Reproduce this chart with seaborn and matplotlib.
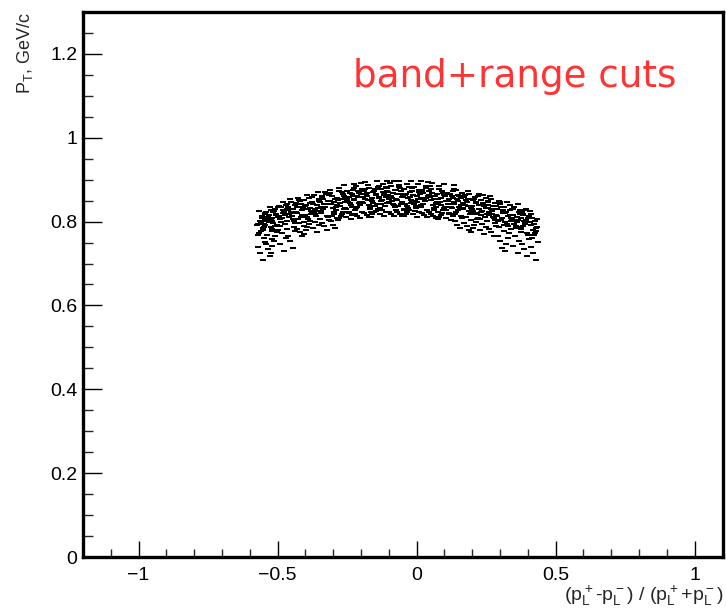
import matplotlib
matplotlib.use("Agg")
import matplotlib.pyplot as plt
from matplotlib.ticker import MultipleLocator, FuncFormatter
from matplotlib.path import Path
import pandas as pd
import seaborn as sns

# Armenteros-type scatter: alpha = (pL+ - pL-)/(pL+ + pL-), pT in GeV/c
alpha = [
    -0.572, -0.567, -0.561, -0.556, -0.550, -0.545, -0.570, -0.564, -0.558, -0.553, -0.547, -0.573, -0.566, -0.559, -0.554, -0.548, -0.544, -0.569, -0.562, -0.551,
    -0.531, -0.547, -0.525, -0.539, -0.520, -0.544, -0.533, -0.528, -0.549, -0.536, -0.522, -0.541, -0.530, -0.546, -0.524, -0.538, -0.519, -0.543, -0.534, -0.526,
    -0.503, -0.514, -0.521, -0.496, -0.500, -0.506, -0.511, -0.518, -0.525, -0.499, -0.505, -0.510, -0.516, -0.522, -0.497, -0.502, -0.508, -0.513, -0.519, -0.524,
    -0.472, -0.480, -0.489, -0.465, -0.484, -0.470, -0.492, -0.476, -0.487, -0.468, -0.482, -0.495, -0.474, -0.479, -0.490, -0.466, -0.485, -0.471, -0.493, -0.477,
    -0.464, -0.459, -0.453, -0.448, -0.442, -0.437, -0.462, -0.456, -0.450, -0.445, -0.439, -0.465, -0.458, -0.451, -0.446, -0.440, -0.436, -0.461, -0.454, -0.443,
    -0.417, -0.433, -0.411, -0.425, -0.406, -0.430, -0.419, -0.414, -0.435, -0.422, -0.408, -0.427, -0.416, -0.432, -0.410, -0.424, -0.405, -0.429, -0.420, -0.412,
    -0.383, -0.394, -0.401, -0.376, -0.380, -0.386, -0.391, -0.398, -0.405, -0.379, -0.385, -0.390, -0.396, -0.402, -0.377, -0.382, -0.388, -0.393, -0.399, -0.404,
    -0.352, -0.360, -0.369, -0.345, -0.364, -0.350, -0.372, -0.356, -0.367, -0.348, -0.362, -0.375, -0.354, -0.359, -0.370, -0.346, -0.365, -0.351, -0.373, -0.357,
    -0.344, -0.339, -0.333, -0.328, -0.322, -0.317, -0.342, -0.336, -0.330, -0.325, -0.319, -0.345, -0.338, -0.331, -0.326, -0.320, -0.316, -0.341, -0.334, -0.323,
    -0.297, -0.313, -0.291, -0.305, -0.286, -0.310, -0.299, -0.294, -0.315, -0.302, -0.288, -0.307, -0.296, -0.312, -0.290, -0.304, -0.285, -0.309, -0.300, -0.292,
    -0.263, -0.274, -0.281, -0.256, -0.260, -0.266, -0.271, -0.278, -0.285, -0.259, -0.265, -0.270, -0.276, -0.282, -0.257, -0.262, -0.268, -0.273, -0.279, -0.284,
    -0.232, -0.240, -0.249, -0.225, -0.244, -0.230, -0.252, -0.236, -0.247, -0.228, -0.242, -0.255, -0.234, -0.239, -0.250, -0.226, -0.245, -0.231, -0.253, -0.237,
    -0.224, -0.219, -0.213, -0.208, -0.202, -0.197, -0.222, -0.216, -0.210, -0.205, -0.199, -0.225, -0.218, -0.211, -0.206, -0.200, -0.196, -0.221, -0.214, -0.203,
    -0.177, -0.193, -0.171, -0.185, -0.166, -0.190, -0.179, -0.174, -0.195, -0.182, -0.168, -0.187, -0.176, -0.192, -0.170, -0.184, -0.165, -0.189, -0.180, -0.172,
    -0.143, -0.154, -0.161, -0.136, -0.140, -0.146, -0.151, -0.158, -0.165, -0.139, -0.145, -0.150, -0.156, -0.162, -0.137, -0.142, -0.148, -0.153, -0.159, -0.164,
    -0.112, -0.120, -0.129, -0.105, -0.124, -0.110, -0.132, -0.116, -0.127, -0.108, -0.122, -0.135, -0.114, -0.119, -0.130, -0.106, -0.125, -0.111, -0.133, -0.117,
    -0.104, -0.099, -0.093, -0.088, -0.082, -0.077, -0.102, -0.096, -0.090, -0.085, -0.079, -0.105, -0.098, -0.091, -0.086, -0.080, -0.076, -0.101, -0.094, -0.083,
    -0.057, -0.073, -0.051, -0.065, -0.046, -0.070, -0.059, -0.054, -0.075, -0.062, -0.048, -0.067, -0.056, -0.072, -0.050, -0.064, -0.045, -0.069, -0.060, -0.052,
    -0.023, -0.034, -0.041, -0.016, -0.020, -0.026, -0.031, -0.038, -0.045, -0.019, -0.025, -0.030, -0.036, -0.042, -0.017, -0.022, -0.028, -0.033, -0.039, -0.044,
    0.008, 0.000, -0.009, 0.015, -0.004, 0.010, -0.012, 0.004, -0.007, 0.012, -0.002, -0.015, 0.006, 0.001, -0.010, 0.014, -0.005, 0.009, -0.013, 0.003,
    0.016, 0.021, 0.027, 0.032, 0.038, 0.043, 0.018, 0.024, 0.030, 0.035, 0.041, 0.015, 0.022, 0.029, 0.034, 0.040, 0.044, 0.019, 0.026, 0.037,
    0.063, 0.047, 0.069, 0.055, 0.074, 0.050, 0.061, 0.066, 0.045, 0.058, 0.072, 0.053, 0.064, 0.048, 0.070, 0.056, 0.075, 0.051, 0.060, 0.068,
    0.097, 0.086, 0.079, 0.104, 0.100, 0.094, 0.089, 0.082, 0.075, 0.101, 0.095, 0.090, 0.084, 0.078, 0.103, 0.098, 0.092, 0.087, 0.081, 0.076,
    0.128, 0.120, 0.111, 0.135, 0.116, 0.130, 0.108, 0.124, 0.113, 0.132, 0.118, 0.105, 0.126, 0.121, 0.110, 0.134, 0.115, 0.129, 0.107, 0.123,
    0.136, 0.141, 0.147, 0.152, 0.158, 0.163, 0.138, 0.144, 0.150, 0.155, 0.161, 0.135, 0.142, 0.149, 0.154, 0.160, 0.164, 0.139, 0.146, 0.157,
    0.183, 0.167, 0.189, 0.175, 0.194, 0.170, 0.181, 0.186, 0.165, 0.178, 0.192, 0.173, 0.184, 0.168, 0.190, 0.176, 0.195, 0.171, 0.180, 0.188,
    0.217, 0.206, 0.199, 0.224, 0.220, 0.214, 0.209, 0.202, 0.195, 0.221, 0.215, 0.210, 0.204, 0.198, 0.223, 0.218, 0.212, 0.207, 0.201, 0.196,
    0.248, 0.240, 0.231, 0.255, 0.236, 0.250, 0.228, 0.244, 0.233, 0.252, 0.238, 0.225, 0.246, 0.241, 0.230, 0.254, 0.235, 0.249, 0.227, 0.243,
    0.256, 0.261, 0.267, 0.272, 0.278, 0.283, 0.258, 0.264, 0.270, 0.275, 0.281, 0.255, 0.262, 0.269, 0.274, 0.280, 0.284, 0.259, 0.266, 0.277,
    0.303, 0.287, 0.309, 0.295, 0.314, 0.290, 0.301, 0.306, 0.285, 0.298, 0.312, 0.293, 0.304, 0.288, 0.310, 0.296, 0.315, 0.291, 0.300, 0.308,
    0.337, 0.326, 0.319, 0.344, 0.340, 0.334, 0.329, 0.322, 0.315, 0.341, 0.335, 0.330, 0.324, 0.318, 0.343, 0.338, 0.332, 0.327, 0.321, 0.316,
    0.368, 0.360, 0.351, 0.375, 0.356, 0.370, 0.348, 0.364, 0.353, 0.372, 0.358, 0.345, 0.366, 0.361, 0.350, 0.374, 0.355, 0.369, 0.347, 0.363,
    0.376, 0.381, 0.387, 0.392, 0.398, 0.403, 0.378, 0.384, 0.390, 0.395, 0.401, 0.375, 0.382, 0.389, 0.394, 0.400, 0.404, 0.379, 0.386, 0.397,
    0.423, 0.407, 0.429, 0.415, 0.434, 0.410, 0.421, 0.426, 0.405, 0.418, 0.432, 0.413, 0.424, 0.408, 0.430, 0.416, 0.435, 0.411, 0.420, 0.428,
]

pt = [
    0.795, 0.825, 0.777, 0.809, 0.788, 0.818, 0.768, 0.802, 0.813, 0.781, 0.806, 0.792, 0.773, 0.799, 0.785, 0.761, 0.751, 0.739, 0.726, 0.709,
    0.815, 0.791, 0.828, 0.801, 0.783, 0.820, 0.808, 0.835, 0.794, 0.812, 0.778, 0.824, 0.798, 0.805, 0.787, 0.769, 0.759, 0.747, 0.734, 0.717,
    0.793, 0.826, 0.809, 0.838, 0.781, 0.818, 0.830, 0.797, 0.804, 0.834, 0.816, 0.789, 0.823, 0.802, 0.811, 0.776, 0.766, 0.754, 0.741, 0.724,
    0.816, 0.846, 0.798, 0.830, 0.809, 0.839, 0.789, 0.823, 0.834, 0.802, 0.827, 0.813, 0.794, 0.820, 0.806, 0.782, 0.772, 0.760, 0.747, 0.730,
    0.834, 0.810, 0.847, 0.820, 0.802, 0.839, 0.827, 0.854, 0.813, 0.831, 0.797, 0.843, 0.817, 0.824, 0.806, 0.788, 0.778, 0.766, 0.753, 0.736,
    0.811, 0.844, 0.827, 0.856, 0.799, 0.836, 0.848, 0.815, 0.822, 0.852, 0.834, 0.807, 0.841, 0.820, 0.829, 0.796, 0.790, 0.783, 0.775, 0.766,
    0.833, 0.863, 0.815, 0.847, 0.826, 0.856, 0.806, 0.840, 0.851, 0.819, 0.844, 0.830, 0.811, 0.837, 0.823, 0.801, 0.795, 0.788, 0.780, 0.771,
    0.850, 0.826, 0.863, 0.836, 0.818, 0.855, 0.843, 0.870, 0.829, 0.847, 0.813, 0.859, 0.833, 0.840, 0.822, 0.806, 0.800, 0.793, 0.785, 0.776,
    0.825, 0.858, 0.841, 0.870, 0.813, 0.850, 0.862, 0.829, 0.836, 0.866, 0.848, 0.821, 0.855, 0.834, 0.843, 0.810, 0.804, 0.797, 0.789, 0.780,
    0.846, 0.876, 0.828, 0.860, 0.839, 0.869, 0.819, 0.853, 0.864, 0.832, 0.857, 0.843, 0.824, 0.850, 0.836, 0.814, 0.808, 0.801, 0.793, 0.784,
    0.861, 0.837, 0.874, 0.847, 0.829, 0.866, 0.854, 0.881, 0.840, 0.858, 0.824, 0.870, 0.844, 0.851, 0.833, 0.887, 0.817, 0.813, 0.809, 0.803,
    0.835, 0.868, 0.851, 0.880, 0.823, 0.860, 0.872, 0.839, 0.846, 0.876, 0.858, 0.831, 0.865, 0.844, 0.853, 0.890, 0.820, 0.816, 0.812, 0.806,
    0.854, 0.884, 0.836, 0.868, 0.847, 0.877, 0.827, 0.861, 0.872, 0.840, 0.865, 0.851, 0.832, 0.858, 0.844, 0.892, 0.822, 0.818, 0.814, 0.808,
    0.868, 0.844, 0.881, 0.854, 0.836, 0.873, 0.861, 0.888, 0.847, 0.865, 0.831, 0.877, 0.851, 0.858, 0.840, 0.894, 0.824, 0.820, 0.816, 0.810,
    0.841, 0.874, 0.857, 0.886, 0.829, 0.866, 0.878, 0.845, 0.852, 0.882, 0.864, 0.837, 0.871, 0.850, 0.859, 0.896, 0.826, 0.822, 0.818, 0.812,
    0.859, 0.889, 0.841, 0.873, 0.852, 0.882, 0.832, 0.866, 0.877, 0.845, 0.870, 0.856, 0.837, 0.863, 0.849, 0.897, 0.827, 0.823, 0.819, 0.813,
    0.871, 0.847, 0.884, 0.857, 0.839, 0.876, 0.864, 0.891, 0.850, 0.868, 0.834, 0.880, 0.854, 0.861, 0.843, 0.897, 0.827, 0.823, 0.819, 0.813,
    0.842, 0.875, 0.858, 0.887, 0.830, 0.867, 0.879, 0.846, 0.853, 0.883, 0.865, 0.838, 0.872, 0.851, 0.860, 0.897, 0.827, 0.823, 0.819, 0.813,
    0.859, 0.889, 0.841, 0.873, 0.852, 0.882, 0.832, 0.866, 0.877, 0.845, 0.870, 0.856, 0.837, 0.863, 0.849, 0.897, 0.827, 0.823, 0.819, 0.813,
    0.870, 0.846, 0.883, 0.856, 0.838, 0.875, 0.863, 0.890, 0.849, 0.867, 0.833, 0.879, 0.853, 0.860, 0.842, 0.896, 0.826, 0.822, 0.818, 0.812,
    0.839, 0.872, 0.855, 0.884, 0.827, 0.864, 0.876, 0.843, 0.850, 0.880, 0.862, 0.835, 0.869, 0.848, 0.857, 0.894, 0.824, 0.820, 0.816, 0.810,
    0.854, 0.884, 0.836, 0.868, 0.847, 0.877, 0.827, 0.861, 0.872, 0.840, 0.865, 0.851, 0.832, 0.858, 0.844, 0.892, 0.822, 0.818, 0.814, 0.808,
    0.864, 0.840, 0.877, 0.850, 0.832, 0.869, 0.857, 0.884, 0.843, 0.861, 0.827, 0.873, 0.847, 0.854, 0.836, 0.890, 0.820, 0.816, 0.812, 0.806,
    0.832, 0.865, 0.848, 0.877, 0.820, 0.857, 0.869, 0.836, 0.843, 0.873, 0.855, 0.828, 0.862, 0.841, 0.850, 0.887, 0.817, 0.813, 0.809, 0.803,
    0.846, 0.876, 0.828, 0.860, 0.839, 0.869, 0.819, 0.853, 0.864, 0.832, 0.857, 0.843, 0.824, 0.850, 0.836, 0.814, 0.808, 0.801, 0.793, 0.784,
    0.854, 0.830, 0.867, 0.840, 0.822, 0.859, 0.847, 0.874, 0.833, 0.851, 0.817, 0.863, 0.837, 0.844, 0.826, 0.810, 0.804, 0.797, 0.789, 0.780,
    0.821, 0.854, 0.837, 0.866, 0.809, 0.846, 0.858, 0.825, 0.832, 0.862, 0.844, 0.817, 0.851, 0.830, 0.839, 0.806, 0.800, 0.793, 0.785, 0.776,
    0.833, 0.863, 0.815, 0.847, 0.826, 0.856, 0.806, 0.840, 0.851, 0.819, 0.844, 0.830, 0.811, 0.837, 0.823, 0.801, 0.795, 0.788, 0.780, 0.771,
    0.840, 0.816, 0.853, 0.826, 0.808, 0.845, 0.833, 0.860, 0.819, 0.837, 0.803, 0.849, 0.823, 0.830, 0.812, 0.796, 0.790, 0.783, 0.775, 0.766,
    0.805, 0.838, 0.821, 0.850, 0.793, 0.830, 0.842, 0.809, 0.816, 0.846, 0.828, 0.801, 0.835, 0.814, 0.823, 0.788, 0.778, 0.766, 0.753, 0.736,
    0.816, 0.846, 0.798, 0.830, 0.809, 0.839, 0.789, 0.823, 0.834, 0.802, 0.827, 0.813, 0.794, 0.820, 0.806, 0.782, 0.772, 0.760, 0.747, 0.730,
    0.822, 0.798, 0.835, 0.808, 0.790, 0.827, 0.815, 0.842, 0.801, 0.819, 0.785, 0.831, 0.805, 0.812, 0.794, 0.776, 0.766, 0.754, 0.741, 0.724,
    0.786, 0.819, 0.802, 0.831, 0.774, 0.811, 0.823, 0.790, 0.797, 0.827, 0.809, 0.782, 0.816, 0.795, 0.804, 0.769, 0.759, 0.747, 0.734, 0.717,
    0.795, 0.825, 0.777, 0.809, 0.788, 0.818, 0.768, 0.802, 0.813, 0.781, 0.806, 0.792, 0.773, 0.799, 0.785, 0.761, 0.751, 0.739, 0.726, 0.709,
]

x_range = [-1.2, 1.1]
y_range = [0.0, 1.3]
x_major_step, x_minor_step = 0.5, 0.1
y_major_step, y_minor_step = 0.2, 0.05
y_title = r"P$_T$, GeV/c"
x_title = r"(p$_L^+$-p$_L^-$) / (p$_L^+$+p$_L^-$)"
note = "band+range cuts"

sns.set_style("white")
plt.rcParams["font.family"] = ["Liberation Sans", "DejaVu Sans"]
plt.rcParams["mathtext.default"] = "regular"

W, H = 726, 608
fig = plt.figure(figsize=(W / 100, H / 100), dpi=100)
fig.patch.set_facecolor("white")
ax = fig.add_axes([83 / W, 51 / H, 639.5 / W, 545 / H])

# small horizontal dash, like ROOT's dot markers
dash = Path([(-1.0, -0.5), (1.0, -0.5), (1.0, 0.5), (-1.0, 0.5), (-1.0, -0.5)],
            [Path.MOVETO, Path.LINETO, Path.LINETO, Path.LINETO, Path.CLOSEPOLY])

df = pd.DataFrame({"alpha": alpha, "pt": pt})
sns.scatterplot(data=df, x="alpha", y="pt", ax=ax, marker=dash, s=13,
                color="black", linewidth=0, legend=False)

ax.set_xlim(*x_range)
ax.set_ylim(*y_range)
ax.set_xlabel("")
ax.set_ylabel("")

ax.xaxis.set_major_locator(MultipleLocator(x_major_step))
ax.xaxis.set_minor_locator(MultipleLocator(x_minor_step))
ax.yaxis.set_major_locator(MultipleLocator(y_major_step))
ax.yaxis.set_minor_locator(MultipleLocator(y_minor_step))
fmt = FuncFormatter(lambda v, p: f"{v:g}".replace("-", "\u2212") if abs(v) > 1e-9 else "0")
ax.xaxis.set_major_formatter(fmt)
ax.yaxis.set_major_formatter(fmt)

ax.tick_params(axis="x", which="major", direction="in", length=11.5, width=1.0,
               labelsize=14, pad=7, bottom=True, top=False, colors="black")
ax.tick_params(axis="x", which="minor", direction="in", length=5.8, width=1.0,
               bottom=True, top=False)
ax.tick_params(axis="y", which="major", direction="in", length=13.7, width=1.0,
               labelsize=14, pad=4, left=True, right=False, colors="black")
ax.tick_params(axis="y", which="minor", direction="in", length=6.9, width=1.0,
               left=True, right=False)

for sp in ax.spines.values():
    sp.set_linewidth(2.4)
    sp.set_color("black")
    sp.set_visible(True)

fig.text(25 / W, 1 - 12 / H, y_title, rotation=90, ha="center", va="top", fontsize=13)
fig.text(724 / W, 0.5 / H, x_title, ha="right", va="bottom", fontsize=14)
fig.text(353 / W, 1 - 87 / H, note, color="#ff3333", fontsize=26.8,
         family="DejaVu Sans", va="baseline", ha="left")

fig.savefig("out.png", dpi=100, facecolor="white")
